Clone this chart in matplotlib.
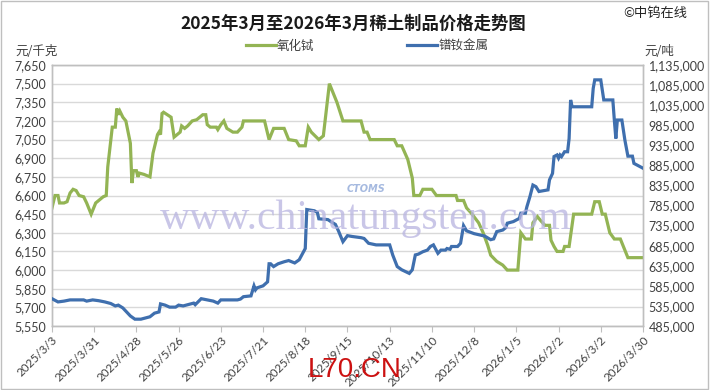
import matplotlib
matplotlib.use("Agg")
import matplotlib.pyplot as plt
import matplotlib.dates as mdates
from matplotlib.ticker import FuncFormatter, FixedLocator
import pandas as pd

plt.rcParams['font.family'] = ['Noto Sans CJK SC', 'DejaVu Sans']

title = "2025年3月至2026年3月稀土制品价格走势图"
left_unit = "元/千克"
right_unit = "元/吨"
tb_name = "氧化铽"
prnd_name = "镨钕金属"

tb_dates = ["2025-03-03", "2025-03-05", "2025-03-07", "2025-03-08", "2025-03-11", "2025-03-13",
            "2025-03-15", "2025-03-17", "2025-03-19", "2025-03-21", "2025-03-24", "2025-03-26",
            "2025-03-29", "2025-04-01", "2025-04-03", "2025-04-06", "2025-04-08", "2025-04-09",
            "2025-04-12", "2025-04-14", "2025-04-15", "2025-04-16", "2025-04-17", "2025-04-19",
            "2025-04-21", "2025-04-22", "2025-04-24", "2025-04-25", "2025-04-26", "2025-04-28",
            "2025-04-29", "2025-04-30", "2025-05-03", "2025-05-07", "2025-05-09", "2025-05-12",
            "2025-05-13", "2025-05-14", "2025-05-15", "2025-05-16", "2025-05-21", "2025-05-23",
            "2025-05-25", "2025-05-27", "2025-05-28", "2025-05-30", "2025-06-01", "2025-06-04",
            "2025-06-07", "2025-06-11", "2025-06-13", "2025-06-14", "2025-06-16", "2025-06-20",
            "2025-06-21", "2025-06-23", "2025-06-25", "2025-06-27", "2025-07-01", "2025-07-04",
            "2025-07-07", "2025-07-08", "2025-07-22", "2025-07-25", "2025-07-28", "2025-08-04",
            "2025-08-07", "2025-08-12", "2025-08-14", "2025-08-18", "2025-08-20", "2025-08-22",
            "2025-08-27", "2025-08-30", "2025-09-03", "2025-09-08", "2025-09-12", "2025-09-24",
            "2025-09-26", "2025-09-28", "2025-09-30", "2025-10-16", "2025-10-18", "2025-10-21",
            "2025-10-25", "2025-10-28", "2025-10-29", "2025-11-02", "2025-11-04", "2025-11-10",
            "2025-11-13", "2025-11-26", "2025-11-27", "2025-12-01", "2025-12-03", "2025-12-06",
            "2025-12-11", "2025-12-14", "2025-12-17", "2025-12-19", "2025-12-23", "2025-12-27",
            "2025-12-30", "2026-01-06", "2026-01-08", "2026-01-11", "2026-01-15", "2026-01-16",
            "2026-01-19", "2026-01-21", "2026-01-24", "2026-01-27", "2026-01-28", "2026-01-30",
            "2026-02-01", "2026-02-05", "2026-02-06", "2026-02-09", "2026-02-12", "2026-02-24",
            "2026-02-26", "2026-03-01", "2026-03-03", "2026-03-05", "2026-03-08", "2026-03-11",
            "2026-03-15", "2026-03-20", "2026-03-30"]
tb_values = [6500, 6600, 6600, 6540, 6540, 6550,
             6620, 6650, 6640, 6600, 6590, 6540,
             6450, 6540, 6560, 6590, 6600, 6830,
             7150, 7150, 7300, 7250, 7280, 7230,
             7200, 7140, 7020, 6700, 6800, 6800,
             6750, 6780, 6770, 6750, 6940, 7090,
             7110, 7090, 7260, 7270, 7230, 7070,
             7090, 7110, 7160, 7140, 7160, 7200,
             7210, 7250, 7250, 7170, 7150, 7150,
             7130, 7170, 7200, 7140, 7110, 7110,
             7150, 7200, 7200, 7050, 7140, 7140,
             7050, 7040, 7000, 7000, 7150, 7110,
             7050, 7080, 7500, 7350, 7200, 7200,
             7110, 7110, 7050, 7050, 7000, 7000,
             6890, 6740, 6600, 6600, 6650, 6650,
             6600, 6600, 6560, 6560, 6500, 6460,
             6380, 6300, 6200, 6120, 6070, 6040,
             6000, 6000, 6300, 6250, 6250, 6380,
             6430, 6400, 6360, 6360, 6240, 6190,
             6150, 6150, 6190, 6190, 6450, 6450,
             6550, 6550, 6450, 6450, 6300, 6250,
             6250, 6100, 6100]

prnd_dates = ["2025-03-03", "2025-03-07", "2025-03-11", "2025-03-15", "2025-03-24", "2025-03-26",
              "2025-03-30", "2025-04-03", "2025-04-07", "2025-04-11", "2025-04-14", "2025-04-16",
              "2025-04-19", "2025-04-24", "2025-04-27", "2025-05-01", "2025-05-04", "2025-05-07",
              "2025-05-10", "2025-05-13", "2025-05-14", "2025-05-17", "2025-05-20", "2025-05-24",
              "2025-05-26", "2025-05-29", "2025-06-01", "2025-06-05", "2025-06-06", "2025-06-10",
              "2025-06-14", "2025-06-18", "2025-06-21", "2025-06-23", "2025-07-04", "2025-07-06",
              "2025-07-08", "2025-07-13", "2025-07-15", "2025-07-16", "2025-07-17", "2025-07-21",
              "2025-07-24", "2025-07-25", "2025-07-26", "2025-07-28", "2025-07-31", "2025-08-04",
              "2025-08-07", "2025-08-11", "2025-08-14", "2025-08-18", "2025-08-19", "2025-08-24",
              "2025-08-26", "2025-08-27", "2025-09-02", "2025-09-04", "2025-09-07", "2025-09-09",
              "2025-09-12", "2025-09-15", "2025-09-18", "2025-09-24", "2025-09-26", "2025-09-29",
              "2025-10-04", "2025-10-13", "2025-10-15", "2025-10-18", "2025-10-21", "2025-10-26",
              "2025-10-28", "2025-10-30", "2025-11-01", "2025-11-04", "2025-11-07", "2025-11-09",
              "2025-11-11", "2025-11-14", "2025-11-16", "2025-11-19", "2025-11-20", "2025-11-22",
              "2025-11-23", "2025-11-27", "2025-11-29", "2025-12-01", "2025-12-03", "2025-12-08",
              "2025-12-15", "2025-12-19", "2025-12-21", "2025-12-23", "2025-12-27", "2025-12-29",
              "2025-12-30", "2026-01-03", "2026-01-07", "2026-01-08", "2026-01-11", "2026-01-12",
              "2026-01-14", "2026-01-16", "2026-01-18", "2026-01-20", "2026-01-26", "2026-01-27",
              "2026-01-29", "2026-01-30", "2026-02-01", "2026-02-02", "2026-02-03", "2026-02-04",
              "2026-02-06", "2026-02-08", "2026-02-09", "2026-02-10", "2026-02-11", "2026-02-24",
              "2026-02-25", "2026-02-26", "2026-03-02", "2026-03-04", "2026-03-10", "2026-03-11",
              "2026-03-12", "2026-03-13", "2026-03-16", "2026-03-18", "2026-03-20", "2026-03-23",
              "2026-03-24", "2026-03-26", "2026-03-30"]
prnd_values = [553000, 545000, 547000, 550000, 550000, 547000,
               550000, 548000, 545000, 541000, 535000, 537000,
               530000, 510000, 502000, 502000, 505000, 508000,
               517000, 520000, 540000, 537000, 532000, 532000,
               537000, 535000, 538000, 542000, 538000, 553000,
               550000, 547000, 542000, 550000, 550000, 552000,
               558000, 560000, 585000, 575000, 580000, 585000,
               595000, 640000, 640000, 633000, 640000, 645000,
               648000, 642000, 650000, 678000, 775000, 772000,
               768000, 752000, 750000, 745000, 738000, 722000,
               695000, 710000, 708000, 705000, 703000, 691000,
               687000, 687000, 662000, 633000, 625000, 616000,
               625000, 662000, 664000, 670000, 674000, 683000,
               687000, 666000, 674000, 674000, 678000, 676000,
               683000, 683000, 691000, 735000, 722000, 715000,
               709000, 700000, 702000, 720000, 724000, 730000,
               741000, 745000, 753000, 766000, 766000, 782000,
               807000, 836000, 832000, 820000, 824000, 849000,
               865000, 907000, 911000, 903000, 911000, 907000,
               919000, 919000, 952000, 1048000, 1031000, 1031000,
               1077000, 1098000, 1098000, 1048000, 1048000, 998000,
               952000, 998000, 998000, 948000, 908000, 908000,
               890000, 886000, 878000]

x_ticks = ["2025-03-03", "2025-03-31", "2025-04-28", "2025-05-26", "2025-06-23", "2025-07-21",
           "2025-08-18", "2025-09-15", "2025-10-13", "2025-11-10", "2025-12-08", "2026-01-05",
           "2026-02-02", "2026-03-02", "2026-03-30"]
left_ticks = [5550, 5700, 5850, 6000, 6150, 6300, 6450, 6600, 6750, 6900, 7050, 7200, 7350, 7500, 7650]
right_ticks = [485000, 535000, 585000, 635000, 685000, 735000, 785000, 835000, 885000,
               935000, 985000, 1035000, 1085000, 1135000]

GREEN = "#93B454"
BLUE = "#3F6FAE"
TXT = "#404040"
GRID = "#D9D9D9"

fig = plt.figure(figsize=(7.1, 3.9), dpi=100)
ax = fig.add_axes([0.0732, 0.1641, 0.8324, 0.6692])
ax2 = ax.twinx()

tb_x = pd.to_datetime(tb_dates)
pr_x = pd.to_datetime(prnd_dates)
tick_x = pd.to_datetime(x_ticks)

l1, = ax.plot(tb_x, tb_values, color=GREEN, lw=2.3, solid_joinstyle='miter', zorder=3)
l2, = ax2.plot(pr_x, prnd_values, color=BLUE, lw=2.3, solid_joinstyle='miter', zorder=3)

ax.set_xlim(tick_x[0], tick_x[-1])
ax.set_ylim(left_ticks[0], left_ticks[-1])
ax2.set_ylim(right_ticks[0], right_ticks[-1])

ax.set_yticks(left_ticks)
ax2.set_yticks(right_ticks)
fmt = FuncFormatter(lambda v, p: f"{int(round(v)):,}")
ax.yaxis.set_major_formatter(fmt)
ax2.yaxis.set_major_formatter(fmt)

ax.set_xticks(tick_x)
ax.set_xticklabels([f"{d.year}/{d.month}/{d.day}" for d in tick_x], rotation=45,
                   ha='right', rotation_mode='anchor', fontsize=8.5, color=TXT,
                   family=['Lato', 'DejaVu Sans'])

ax.grid(axis='y', color=GRID, lw=1.0, zorder=0)
ax.set_axisbelow(True)
ax.tick_params(axis='y', length=0, labelsize=9, colors=TXT, pad=4)
ax2.tick_params(axis='y', length=0, labelsize=9, colors=TXT, pad=4)
ax.tick_params(axis='x', length=4, color="#BFBFBF", pad=2)
for lab in ax.get_yticklabels() + ax2.get_yticklabels():
    lab.set_family(['Lato', 'DejaVu Sans'])
for a in (ax, ax2):
    for s in a.spines.values():
        s.set_color("#BFBFBF")
        s.set_linewidth(1.0)

# watermarks
fig.text(0.515, 0.44, "www.chinatungsten.com", fontsize=30, color="#B8B4E0", alpha=0.75,
         family=['Liberation Serif', 'DejaVu Serif'], ha='center', va='center', zorder=5)
fig.text(0.515, 0.515, "CTOMS", fontsize=7, color="#8FA8D8", alpha=0.8, style='italic',
         fontweight='bold', ha='center', va='center', family=['DejaVu Sans'])
fig.text(0.499, 0.051, "L70.CN", fontsize=20, color="#CC1111", ha='center', va='center',
         family=['Liberation Sans', 'DejaVu Sans'], zorder=6)

# titles and units
fig.text(0.497, 0.938, title, fontsize=12.5, fontweight='bold', color="#1A1A1A",
         ha='center', va='center')
fig.text(0.968, 0.965, "©中钨在线", fontsize=9.5, color="#222222", ha='right', va='center')
fig.text(0.021, 0.868, left_unit, fontsize=9, color=TXT, ha='left', va='center')
fig.text(0.907, 0.868, right_unit, fontsize=9, color=TXT, ha='left', va='center')

leg = fig.legend([l1, l2], [tb_name, prnd_name], loc='center', bbox_to_anchor=(0.517, 0.882),
                 ncol=2, frameon=False, fontsize=9, handlelength=2.4, handletextpad=0.1,
                 columnspacing=7.45, labelcolor=TXT)

# chart border
fig.patches.append(plt.Rectangle((0.002, 0.003), 0.995, 0.994, transform=fig.transFigure,
                                 fill=False, edgecolor="#BFBFBF", lw=1.0))

fig.savefig("out.png", dpi=100)
